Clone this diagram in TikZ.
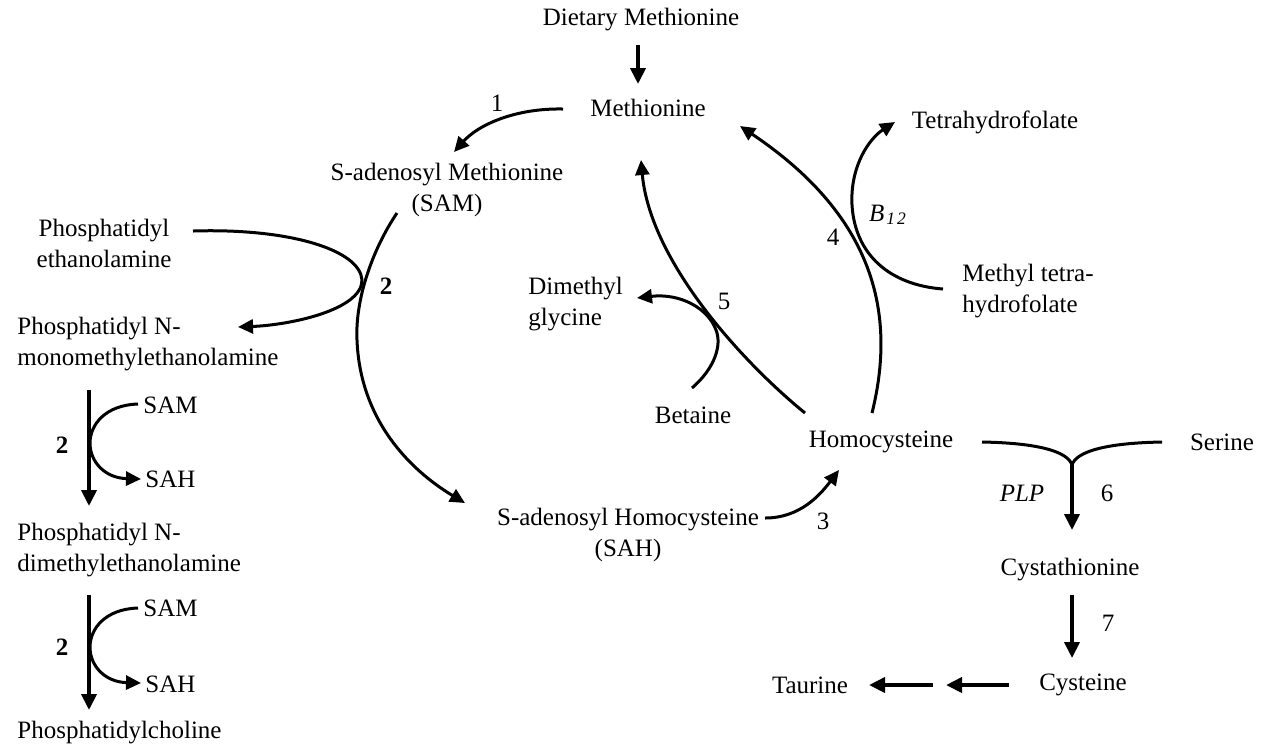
\documentclass[tikz,border=0pt]{standalone}
\usepackage{fontspec}
\setmainfont{Liberation Serif}
\usetikzlibrary{arrows.meta}
\begin{document}
\begin{tikzpicture}[x=0.5pt,y=-0.5pt,
  every node/.style={inner sep=0pt,font=\fontsize{12.5pt}{15.5pt}\selectfont},
  lbl/.style={font=\fontsize{12.5pt}{15.5pt}\selectfont},
  blbl/.style={font=\fontsize{12.5pt}{15.5pt}\selectfont\bfseries},
  curve/.style={line width=1.5pt},
  arr/.style={line width=1.5pt,-{Triangle[length=7.5pt,width=7pt]}},
  sarr/.style={line width=1.9pt,-{Triangle[length=8pt,width=7.5pt]}}]
\useasboundingbox (0,0) rectangle (1267,752);
% compounds
\node (diet) at (641,20) {Dietary Methionine};
\node (met) at (648,108) {Methionine};
\node[align=center] (sam) at (447,190) {S-adenosyl Methionine\\(SAM)};
\node[align=center] (pe) at (104,243) {Phosphatidyl\\ethanolamine};
\node[align=left,anchor=west] (pme) at (17,344) {Phosphatidyl N-\\monomethylethanolamine};
\node[anchor=west] (sama) at (143,405) {SAM};
\node[anchor=west] (saha) at (145,479) {SAH};
\node[align=left,anchor=west] (pde) at (17,550) {Phosphatidyl N-\\dimethylethanolamine};
\node[anchor=west] (samb) at (143,608) {SAM};
\node[anchor=west] (sahb) at (145,684) {SAH};
\node[anchor=west] (pc) at (17,733) {Phosphatidylcholine};
\node[align=left,anchor=west] (dmg) at (528,304) {Dimethyl\\glycine};
\node (bet) at (693,415) {Betaine};
\node (hcy) at (881,442) {Homocysteine};
\node (thf) at (995,122) {Tetrahydrofolate};
\node[align=left,anchor=west] (mthf) at (962,291) {Methyl tetra-\\hydrofolate};
\node[align=center] (sah) at (628,535) {S-adenosyl Homocysteine\\(SAH)};
\node (ser) at (1222,442) {Serine};
\node (cysta) at (1070,570) {Cystathionine};
\node (cys) at (1083,685) {Cysteine};
\node (tau) at (810,685) {Taurine};
% labels
\node[lbl] (l1) at (497,103) {1};
\node[blbl] (l2a) at (386,286) {2};
\node[blbl] (l2b) at (62,445) {2};
\node[blbl] (l2c) at (62,647) {2};
\node[lbl] (l3) at (823,521) {3};
\node[lbl] (l4) at (833,237) {4};
\node[lbl] (l5) at (724,301) {5};
\node[lbl] (l6) at (1107,493) {6};
\node[lbl] (l7) at (1108,623) {7};
\node[lbl] (lb12) at (888,215) {\textit{B}\textsubscript{\kern1pt\textit{1\kern1pt2}}};
\node[lbl] (lplp) at (1022,493) {\textit{PLP}};
% connector end points
\coordinate (d1) at (638,45);  \coordinate (d2) at (638,84);
\coordinate (m1) at (563,109); \coordinate (s1) at (454,152);
\coordinate (s2) at (397,213); \coordinate (s2m) at (357,340); \coordinate (h1) at (465,503);
\coordinate (p1) at (193,231); \coordinate (p2) at (362,280); \coordinate (p3) at (238,327);
\coordinate (va1) at (89,390); \coordinate (va2) at (89,506);
\coordinate (ca1) at (138,404); \coordinate (ca2) at (90,443); \coordinate (ca3) at (141,479);
\coordinate (vb1) at (89,595); \coordinate (vb2) at (89,710);
\coordinate (cb1) at (138,608); \coordinate (cb2) at (90,647); \coordinate (cb3) at (141,683);
\coordinate (h5) at (805,413); \coordinate (m5) at (641,160);
\coordinate (b1) at (692,388); \coordinate (b2) at (716,330); \coordinate (g1) at (637,298);
\coordinate (h4) at (872,413); \coordinate (m4) at (740,126);
\coordinate (t1) at (943,289); \coordinate (t2) at (852,205); \coordinate (t3) at (895,122);
\coordinate (a3) at (765,518); \coordinate (h3) at (839,470);
\coordinate (hr) at (982,442); \coordinate (sr) at (1162,442); \coordinate (j6) at (1072,465); \coordinate (c6) at (1072,530);
\coordinate (c7a) at (1072,595); \coordinate (c7b) at (1072,658);
\coordinate (cy1) at (1009,685); \coordinate (cy2) at (946,685);
\coordinate (cy3) at (933,685); \coordinate (cy4) at (869,685);
% connectors
\draw[sarr] (d1) -- (d2);
\draw[arr] (m1) .. controls (515,108) and (478,125) .. (s1);
\draw[arr] (s2) .. controls (372,250) and (355,300) .. (s2m) .. controls (360,420) and (410,470) .. (h1);
\draw[arr] (p1) .. controls (290,228) and (360,250) .. (p2) .. controls (362,310) and (290,325) .. (p3);
\draw[sarr] (va1) -- (va2);
\draw[arr] (ca1) .. controls (105,405) and (90,425) .. (ca2) .. controls (90,462) and (105,478) .. (ca3);
\draw[sarr] (vb1) -- (vb2);
\draw[arr] (cb1) .. controls (105,609) and (90,629) .. (cb2) .. controls (90,666) and (105,682) .. (cb3);
\draw[arr] (h5) .. controls (740,360) and (650,260) .. (m5);
\draw[arr] (b1) .. controls (715,368) and (722,345) .. (b2) .. controls (708,308) and (680,293) .. (g1);
\draw[arr] (h4) .. controls (895,320) and (880,220) .. (m4);
\draw[arr] (t1) .. controls (890,285) and (855,255) .. (t2) .. controls (850,165) and (870,138) .. (t3);
\draw[arr] (a3) .. controls (800,518) and (820,495) .. (h3);
\draw[curve] (hr) .. controls (1040,443) and (1068,452) .. (j6);
\draw[curve] (sr) .. controls (1104,443) and (1076,452) .. (j6);
\draw[sarr] (j6) -- (c6);
\draw[sarr] (c7a) -- (c7b);
\draw[sarr] (cy1) -- (cy2);
\draw[sarr] (cy3) -- (cy4);
\end{tikzpicture}
\end{document}
